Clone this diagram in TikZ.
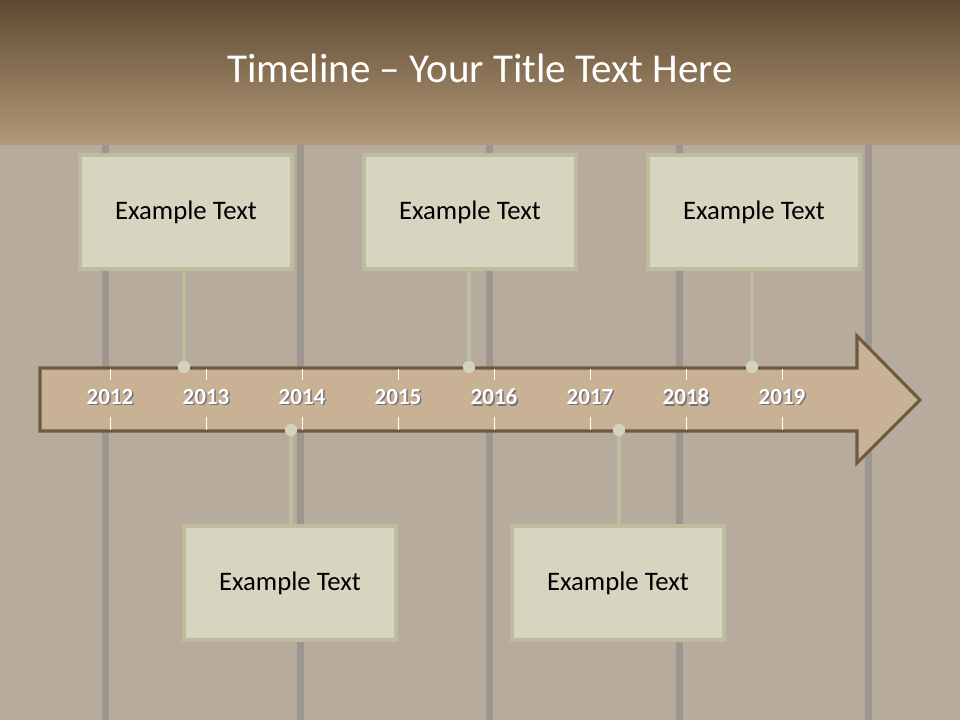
\documentclass[tikz,border=0pt]{standalone}
\usepackage{fontspec}
\setmainfont{Carlito}
\usetikzlibrary{positioning}
\definecolor{headtop}{HTML}{5E4A32}
\definecolor{headbot}{HTML}{B49978}
\definecolor{wood}{HTML}{B6AB9D}
\definecolor{woodgap}{HTML}{9C968F}
\definecolor{arrowfill}{HTML}{C8B195}
\definecolor{arrowline}{HTML}{6E5A3F}
\definecolor{boxfill}{HTML}{D6D5BF}
\definecolor{boxline}{HTML}{BDBC9C}
\definecolor{pin}{HTML}{D3D3BC}
\tikzset{
    textbox/.style={draw=boxline, line width=2.2pt, fill=boxfill,
        minimum width=5.3cm, minimum height=2.85cm, inner sep=0pt,
        font=\fontsize{19}{23}\selectfont, text=black},
    pindot/.style={circle, fill=pin, minimum size=0.3cm, inner sep=0pt},
    pinline/.style={draw=boxline, line width=2.8pt},
    yearlabel/.style={font=\fontsize{16.4}{19}\selectfont\bfseries, text=white, inner sep=0pt},
    yearshadow/.style={font=\fontsize{16.4}{19}\selectfont\bfseries, text=black!55, inner sep=0pt}
}

\begin{document}
\begin{tikzpicture}[x=0.025cm, y=-0.025cm]

            \useasboundingbox (0,0) rectangle (960,720);

            % Draw wooden background.
            \fill[wood] (0,0) rectangle (960,720);
            \foreach \g in {102,297,486,676,865}
                \fill[woodgap] (\g,145) rectangle ++(7,575);

            % Draw title band.
            \shade[top color=headtop, bottom color=headbot] (0,0) rectangle (960,145);
            \node[text=white, font=\fontsize{29.2}{35}\selectfont] (title) at (480,68)
                {Timeline -- Your Title Text Here};

            % Draw timeline arrow.
            \draw[arrowline, fill=arrowfill, line width=2.2pt, line join=miter]
                (40,368) -- (857,368) -- (857,336) -- (920,400) -- (857,463)
                -- (857,431) -- (40,431) -- cycle;

            % Draw year ticks and labels.
            \foreach \yr [count=\i from 0] in {2012,2013,...,2019} {
                \draw[white, line width=0.7pt] (110+96*\i,369) -- (110+96*\i,380);
                \draw[white, line width=0.7pt] (110+96*\i,417) -- (110+96*\i,430);
                \node[yearshadow] (s\yr) at (111.5+96*\i,398.5) {\yr};
                \node[yearlabel] (y\yr) at (110+96*\i,397) {\yr};
            }

            % Draw text boxes.
            \node[textbox] (t1) at (186,212) {Example Text};
            \node[textbox] (t2) at (470,212) {Example Text};
            \node[textbox] (t3) at (754,212) {Example Text};
            \node[textbox] (b1) at (290,583) {Example Text};
            \node[textbox] (b2) at (618,583) {Example Text};

            % Draw pins on the arrow.
            \node[pindot] (p1) at (184,367) {};
            \node[pindot] (p2) at (469,367) {};
            \node[pindot] (p3) at (752,367) {};
            \node[pindot] (q1) at (291,430) {};
            \node[pindot] (q2) at (619,430) {};

            % Draw connectors.
            \foreach \p/\t in {p1/t1,p2/t2,p3/t3,q1/b1,q2/b2}
                \draw[pinline] (\p) -- (\p |- \t.center) ;

            % Redraw boxes and pins over connectors.
            \foreach \t in {t1,t2,t3,b1,b2}
                \node[textbox] at (\t) {Example Text};
            \foreach \p in {p1,p2,p3,q1,q2}
                \node[pindot] at (\p) {};

            \end{tikzpicture}
\end{document}
